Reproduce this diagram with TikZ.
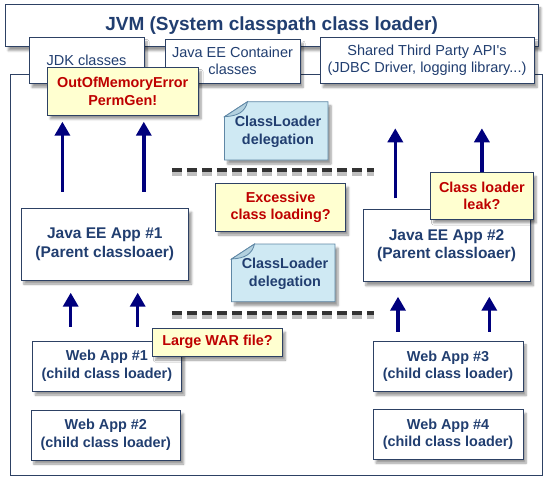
\documentclass[tikz,border=0pt]{standalone}
\usepackage{fontspec}
\setmainfont{Liberation Sans}
\usetikzlibrary{arrows.meta,shadows.blur}
\definecolor{boxline}{RGB}{45,65,100}
\definecolor{boxtext}{RGB}{33,62,112}
\definecolor{uparrow}{RGB}{0,0,125}
\definecolor{warnfill}{RGB}{255,255,208}
\definecolor{warntext}{RGB}{190,0,0}
\definecolor{notefill}{RGB}{207,233,243}
\definecolor{noteline}{RGB}{95,135,165}

\begin{document}
\begin{tikzpicture}[x=1pt,y=-1pt,
  soft/.style={blur shadow={shadow xshift=3pt,shadow yshift=-4pt,shadow blur steps=6,shadow opacity=40}},
  plainbox/.style={draw=boxline,line width=0.8pt,fill=white,soft,inner sep=0pt,align=center,text=boxtext},
  apptext/.style={font=\fontsize{14.4}{17.6}\selectfont\bfseries},
  libtext/.style={font=\fontsize{14.5}{17}\selectfont},
  warnbox/.style={draw=boxline,line width=0.8pt,fill=warnfill,soft,inner sep=0pt,align=center,text=warntext,font=\fontsize{14.4}{17.6}\selectfont\bfseries},
  notetext/.style={inner sep=0pt,align=center,text=boxtext,font=\fontsize{14.4}{18.3}\selectfont\bfseries},
  notebox/.style={draw=noteline,line width=0.8pt,fill=notefill,soft},
  upline/.style={draw=uparrow,line width=3.5pt,-{Triangle[width=15pt,length=14pt]}},
  splitline/.style={line width=4pt,dash pattern=on 10pt off 5pt}
]
  \useasboundingbox (0,0) rectangle (550,482);
  % outer frame
  \draw[boxline,line width=0.8pt] (10.5,74) rectangle (542,475.7);
  \node[plainbox,minimum width=532.7,minimum height=42.7,font=\fontsize{19}{22}\selectfont\bfseries] (jvm) at (271.6,25.3) {JVM (System classpath class loader)};
  % shared class sources
  \node[plainbox,libtext,minimum width=115,minimum height=45.6] (jdk) at (86.5,60.5) {JDK classes};
  \node[plainbox,libtext,minimum width=135,minimum height=44] (container) at (232.5,61.3) {Java EE Container\\classes};
  \node[plainbox,libtext,minimum width=214,minimum height=45.6] (thirdparty) at (427,60.5) {Shared Third Party API\textquotesingle s\\(JDBC Driver, logging library...)};
  \node[warnbox,minimum width=150.6,minimum height=47.3] (permgen) at (122.7,91.3) {OutOfMemoryError\\PermGen!};
  % delegation lines
  \draw[splitline,black!25] (171.9,173.5) -- (373.6,173.5);% shadow
  \draw[splitline,black!80] (171.9,170) -- (373.6,170);% upper line
  \draw[splitline,black!25] (171.9,316.8) -- (373.6,316.8);% shadow
  \draw[splitline,black!80] (171.9,313.3) -- (373.6,313.3);% lower line
  % upper note
  \filldraw[notebox] (224.5,116.7) -- (247.5,101.7) -- (328,101.7) -- (328,160) -- (224.5,160) -- cycle;
  \filldraw[draw=noteline,line width=0.8pt,fill=notefill!75!noteline] (224.5,116.7) -- (247.5,101.7) .. controls (245,112) and (238,116) .. (224.5,116.7) -- cycle;
  \node[notetext] (note1) at (278,132) {ClassLoader\\delegation};
  % lower note
  \filldraw[notebox] (231.5,259) -- (254.5,244) -- (335,244) -- (335,301.7) -- (231.5,301.7) -- cycle;
  \filldraw[draw=noteline,line width=0.8pt,fill=notefill!75!noteline] (231.5,259) -- (254.5,244) .. controls (252,254.3) and (245,258.3) .. (231.5,259) -- cycle;
  \node[notetext] (note2) at (285,274) {ClassLoader\\delegation};
  \node[warnbox,minimum width=129.8,minimum height=47.7] (excessive) at (280.6,207.2) {Excessive\\class loading?};
  % application class loaders
  \node[plainbox,apptext,font=\fontsize{15.5}{18.3}\selectfont\bfseries,minimum width=167.7,minimum height=71.7] (app1) at (104.8,244.2) {Java EE App \#1\\(Parent classloaer)};
  \node[plainbox,apptext,font=\fontsize{15.5}{18.3}\selectfont\bfseries,minimum width=167.3,minimum height=72.4] (app2) at (446.6,245.5) {Java EE App \#2\\(Parent classloaer)};
  \node[warnbox,minimum width=102.4,minimum height=46.3] (leak) at (481.9,195.8) {Class loader\\leak?};
  % web application class loaders
  \node[plainbox,apptext,minimum width=149.2,minimum height=50] (web1) at (106.9,366) {Web App \#1\\(child class loader)};
  \node[plainbox,apptext,minimum width=149.7,minimum height=50] (web2) at (105.8,435) {Web App \#2\\(child class loader)};
  \node[plainbox,apptext,minimum width=150,minimum height=50.5] (web3) at (448,366.2) {Web App \#3\\(child class loader)};
  \node[plainbox,apptext,minimum width=150,minimum height=49.7] (web4) at (448,434.2) {Web App \#4\\(child class loader)};
  \node[warnbox,minimum width=129.8,minimum height=27.7] (war) at (217.5,342.2) {Large WAR file?};
  % arrow ends
  \coordinate (a1from) at (62.4,191.7);  \coordinate (a1to) at (62.4,121.7);
  \coordinate (a2from) at (143.8,191.7); \coordinate (a2to) at (143.8,121.7);
  \coordinate (a3from) at (395.3,198.3); \coordinate (a3to) at (395.3,128.3);
  \coordinate (a4to) at (481.9,128.3);
  \coordinate (b1from) at (70.7,326.7);  \coordinate (b1to) at (70.7,292.7);
  \coordinate (b2from) at (137.7,326.7); \coordinate (b2to) at (137.7,292.7);
  \coordinate (b3from) at (398,331.7);   \coordinate (b3to) at (398,296.7);
  \coordinate (b4from) at (489.3,331.7); \coordinate (b4to) at (489.3,296.7);
  \draw[upline] (a1from) -- (a1to);
  \draw[upline] (a2from) -- (a2to);
  \draw[upline] (a3from) -- (a3to);
  \draw[upline] (leak.north) -- (a4to);
  \draw[upline] (b1from) -- (b1to);
  \draw[upline] (b2from) -- (b2to);
  \draw[upline] (b3from) -- (b3to);
  \draw[upline] (b4from) -- (b4to);
\end{tikzpicture}
\end{document}
